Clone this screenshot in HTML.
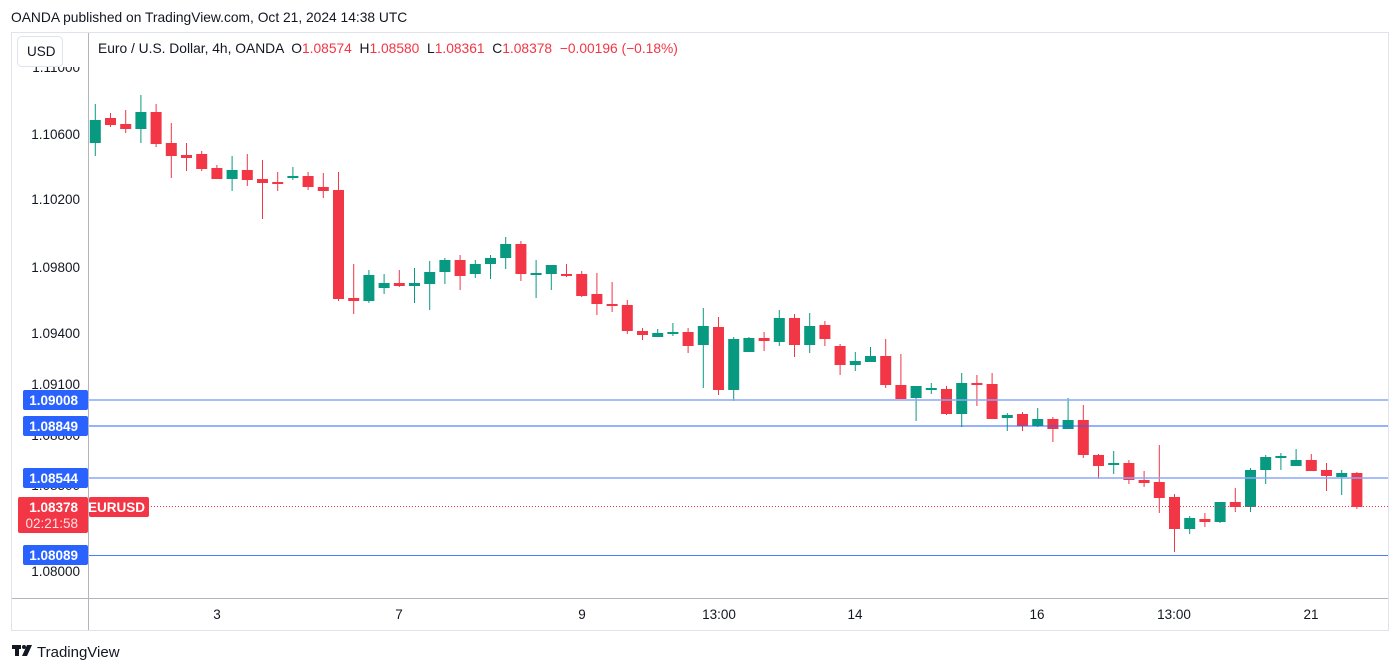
<!DOCTYPE html>
<html><head><meta charset="utf-8"><style>
body{margin:0;width:1400px;height:672px;background:#fff;overflow:hidden;font-family:"Liberation Sans",sans-serif;}
svg{position:absolute;left:0;top:0}
text{white-space:pre}
</style></head><body>
<svg id="s" width="1400" height="672" xmlns="http://www.w3.org/2000/svg" font-family="Liberation Sans, sans-serif" xml:space="preserve">
<text x="11" y="22" font-size="13.8" fill="#131722">OANDA published on TradingView.com, Oct 21, 2024 14:38 UTC</text>
<rect x="11.5" y="32.5" width="1377" height="598" fill="#fff" stroke="#e0e3eb"/>
<line x1="88.5" y1="33" x2="88.5" y2="630" stroke="#b2b5be"/>
<line x1="12" y1="598.5" x2="1388" y2="598.5" stroke="#b2b5be"/>
<g font-size="13.5" fill="#131722" text-anchor="end">
<text x="80" y="72">1.11000</text>
<text x="80" y="139">1.10600</text>
<text x="80" y="204">1.10200</text>
<text x="80" y="272">1.09800</text>
<text x="80" y="338">1.09400</text>
<text x="80" y="389">1.09100</text>
<text x="80" y="440">1.08800</text>
<text x="80" y="490">1.08500</text>
<text x="80" y="576">1.08000</text>
</g>
<rect x="12" y="33" width="76" height="34" fill="#fff"/>
<rect x="17.5" y="36.5" width="45" height="30" rx="4" fill="#fff" stroke="#e0e3eb"/>
<text x="27" y="56" font-size="13.5" fill="#131722">USD</text>
<text x="98" y="53" font-size="13.8" fill="#131722">Euro / U.S. Dollar, 4h, OANDA  O<tspan fill="#f23645">1.08574</tspan>  H<tspan fill="#f23645">1.08580</tspan>  L<tspan fill="#f23645">1.08361</tspan>  C<tspan fill="#f23645">1.08378</tspan>  <tspan fill="#f23645">−0.00196 (−0.18%)</tspan></text>
<g id="c"></g>
<line x1="89" y1="400" x2="1388" y2="400" stroke="#8aa7fb" stroke-width="1.5"/>
<line x1="89" y1="426" x2="1388" y2="426" stroke="#2962ff"/>
<line x1="89" y1="478" x2="1388" y2="478" stroke="#8aa7fb" stroke-width="1.5"/>
<line x1="89" y1="555.5" x2="1388" y2="555.5" stroke="#4a7bff"/>
<line x1="148" y1="506.5" x2="1388" y2="506.5" stroke="#f23645" stroke-dasharray="1,2"/>
<g font-size="13.5" fill="#fff" text-anchor="end" font-weight="bold">
<rect x="23" y="390" width="65" height="20" rx="2" fill="#2962ff"/><text x="78" y="405">1.09008</text>
<rect x="23" y="416" width="65" height="20" rx="2" fill="#2962ff"/><text x="78" y="431">1.08849</text>
<rect x="23" y="468" width="65" height="20" rx="2" fill="#2962ff"/><text x="78" y="483">1.08544</text>
<rect x="18" y="497" width="70" height="36" rx="2" fill="#f23645"/><text x="78" y="512">1.08378</text><text x="78" y="528" font-weight="normal" fill="#fde0e3">02:21:58</text>
<rect x="89" y="497" width="60" height="20" rx="2" fill="#f23645"/><text x="145" y="512">EURUSD</text>
<rect x="23" y="545" width="65" height="20" rx="2" fill="#2962ff"/><text x="78" y="560">1.08089</text>
</g>
<g font-size="13.5" fill="#131722" text-anchor="middle">
<text x="217" y="619">3</text><text x="399" y="619">7</text><text x="582" y="619">9</text><text x="719" y="619">13:00</text><text x="855" y="619">14</text><text x="1037" y="619">16</text><text x="1174" y="619">13:00</text><text x="1311" y="619">21</text>
</g>
<g fill="#131722"><rect x="12" y="645" width="9" height="4"/><rect x="15" y="645" width="4" height="11"/><circle cx="24" cy="647" r="2"/><polygon points="27,645 32,645 27,656 22,656"/></g>
<text x="37" y="657" font-size="15" fill="#131722">TradingView</text>
</svg>
<script>
var d=[[143,120,104,156],[118,125,113,127],[124,129,110,133],[129,112,95,143],[112,144,104,147],[143,156,123,178],[155,158,143,171],[154,169,151,171],[168,179,165,179],[179,170,156,191],[170,180,154,186],[179,183,160,219],[182,184,172,191],[178,176,167,180],[176,187,172,190],[187,191,173,198],[190,299,172,301],[298,301,264,314],[301,275,270,303],[288,283,274,294],[283,286,270,287],[286,283,268,303],[284,272,261,310],[272,260,258,284],[260,276,255,290],[274,264,260,278],[264,258,255,279],[258,244,237,269],[244,274,241,281],[274,273,260,298],[274,265,265,290],[274,275,264,277],[274,296,271,297],[294,304,273,315],[304,306,282,312],[305,331,300,334],[331,335,328,340],[337,333,329,337],[333,332,323,336],[332,346,328,353],[345,326,308,388],[327,390,317,395],[390,339,337,401],[352,338,337,352],[338,341,332,351],[342,318,310,346],[318,345,314,357],[345,326,313,353],[325,339,321,346],[346,365,344,375],[365,361,352,371],[362,356,347,362],[356,385,339,388],[385,399,354,399],[398,386,386,421],[389,388,383,394],[389,414,386,415],[414,383,373,427],[383,385,375,406],[384,419,373,419],[418,415,413,431],[414,426,412,431],[426,419,408,427],[419,429,417,442],[429,420,398,429],[420,455,405,458],[455,466,454,479],[465,463,451,474],[463,480,460,484],[480,483,471,487],[482,498,445,513],[497,529,494,552],[529,518,516,534],[519,522,513,527],[522,502,502,523],[502,507,488,512],[507,470,468,512],[470,457,455,484],[458,456,453,470],[466,460,449,466],[460,471,454,471],[470,476,463,491],[477,473,470,495],[473,507,472,509]];
var h='';for(var i=0;i<d.length;i++){var c=d[i],x=95.3+i*15.2,r=c[1]>c[0],col=r?'#f23645':'#089981';var t=Math.min(c[0],c[1]),b=Math.max(c[0],c[1]);if(b-t<2)b=t+2;
h+='<line x1="'+x+'" x2="'+x+'" y1="'+c[2]+'" y2="'+c[3]+'" stroke="'+col+'" stroke-width="1"/>';
h+='<rect x="'+(x-5.5)+'" y="'+t+'" width="11" height="'+(b-t)+'" fill="'+col+'"/>';}
document.getElementById('c').innerHTML=h;
</script>
</body></html>
